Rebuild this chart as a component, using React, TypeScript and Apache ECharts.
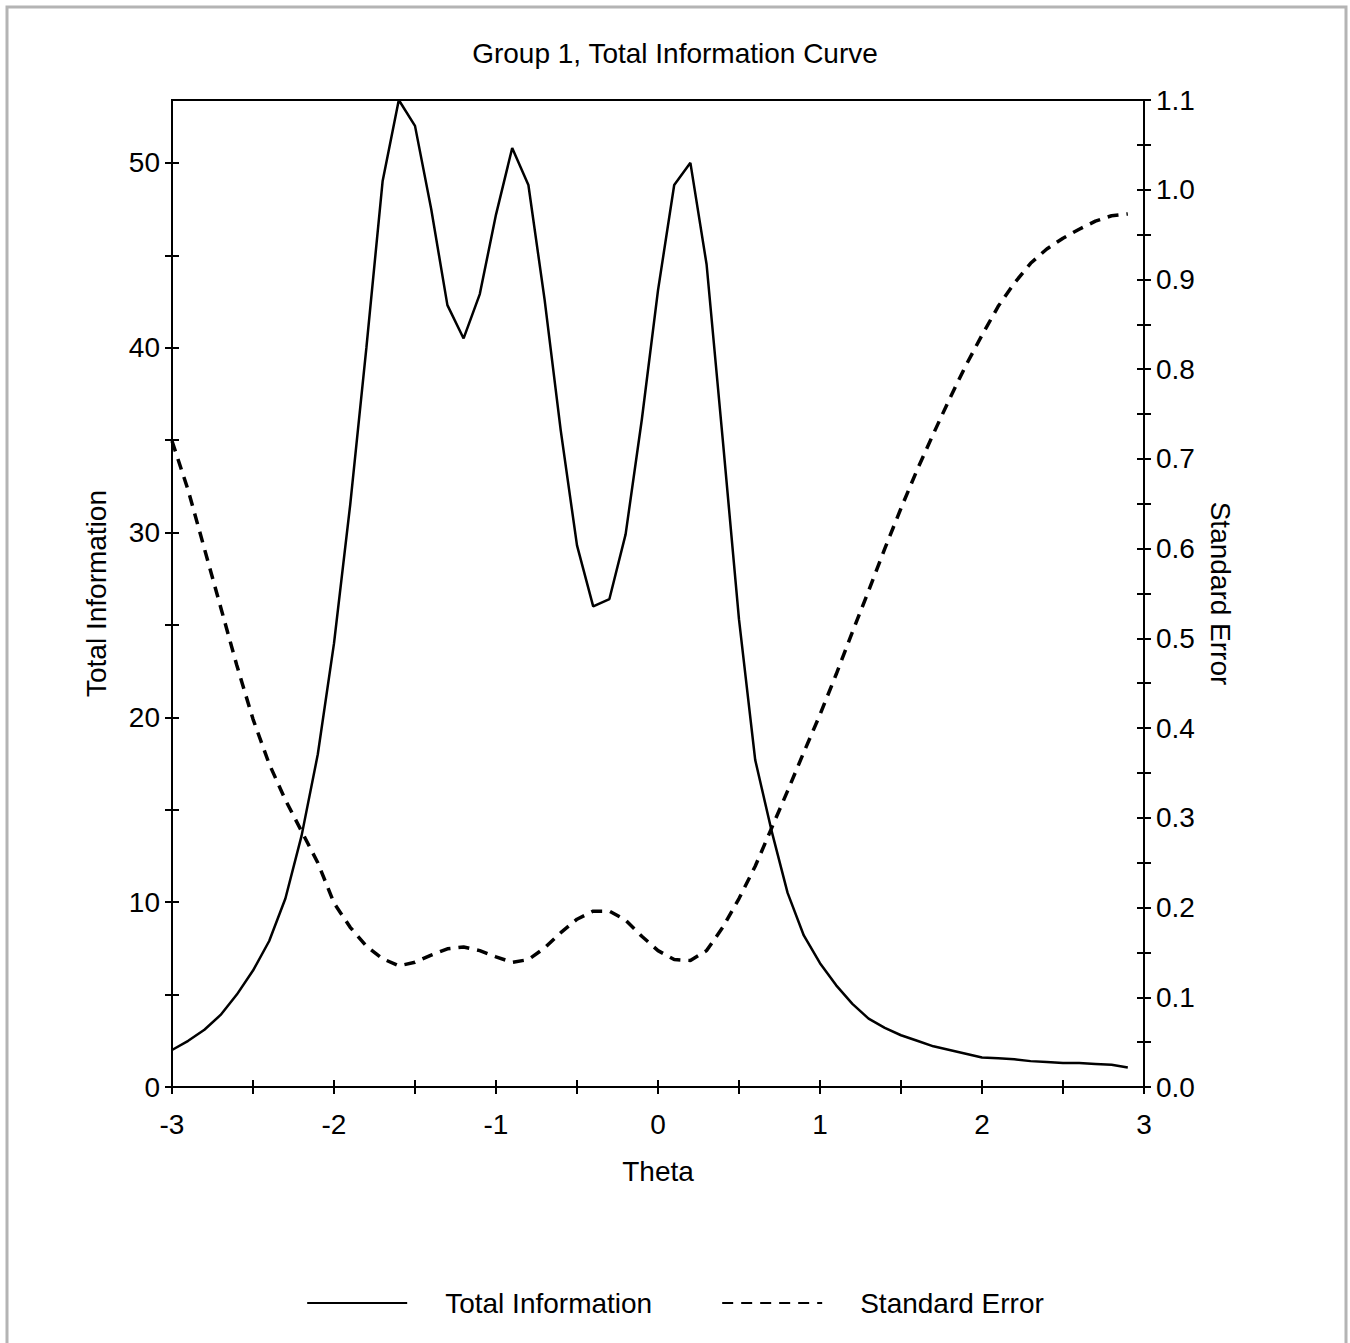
import React, { useEffect, useRef } from "react";
import * as echarts from "echarts";

const theta = [
  -3.0, -2.9, -2.8, -2.7, -2.6, -2.5, -2.4, -2.3, -2.2, -2.1,
  -2.0, -1.9, -1.8, -1.7, -1.6, -1.5, -1.4, -1.3, -1.2, -1.1,
  -1.0, -0.9, -0.8, -0.7, -0.6, -0.5, -0.4, -0.3, -0.2, -0.1,
  0.0, 0.1, 0.2, 0.3, 0.4, 0.5, 0.6, 0.7, 0.8, 0.9,
  1.0, 1.1, 1.2, 1.3, 1.4, 1.5, 1.6, 1.7, 1.8, 1.9,
  2.0, 2.1, 2.2, 2.3, 2.4, 2.5, 2.6, 2.7, 2.8, 2.9,
];

const totalInformation = [
  2.0, 2.5, 3.1, 3.9, 5.0, 6.3, 7.9, 10.2, 13.6, 18.0,
  24.0, 31.5, 40.0, 49.0, 53.4, 52.0, 47.5, 42.3, 40.5, 42.9,
  47.2, 50.8, 48.8, 42.6, 35.5, 29.3, 26.0, 26.4, 29.9, 36.1,
  43.1, 48.8, 50.0, 44.5, 35.0, 25.3, 17.7, 13.9, 10.5, 8.2,
  6.7, 5.5, 4.5, 3.7, 3.2, 2.8, 2.5, 2.2, 2.0, 1.8,
  1.6, 1.55, 1.5, 1.4, 1.35, 1.3, 1.3, 1.25, 1.2, 1.05,
];

const standardError = [
  0.72, 0.665, 0.6, 0.535, 0.47, 0.41, 0.36, 0.32, 0.285, 0.25,
  0.205, 0.178, 0.157, 0.143, 0.135, 0.139, 0.147, 0.154, 0.156, 0.152,
  0.145, 0.139, 0.142, 0.155, 0.172, 0.187, 0.196, 0.196, 0.186, 0.168,
  0.152, 0.142, 0.141, 0.152, 0.178, 0.21, 0.246, 0.288, 0.33, 0.373,
  0.415, 0.46, 0.507, 0.553, 0.6, 0.645, 0.688, 0.728, 0.767, 0.804,
  0.838, 0.87, 0.896, 0.918, 0.934, 0.946, 0.956, 0.965, 0.971, 0.973,
];

const xTicks = [-3, -2.5, -2, -1.5, -1, -0.5, 0, 0.5, 1, 1.5, 2, 2.5, 3];
const xLabels = [-3, -2, -1, 0, 1, 2, 3];
const leftTicks = [0, 5, 10, 15, 20, 25, 30, 35, 40, 45, 50];
const leftLabels = [0, 10, 20, 30, 40, 50];
const rightTicks = [
  0, 0.05, 0.1, 0.15, 0.2, 0.25, 0.3, 0.35, 0.4, 0.45, 0.5, 0.55,
  0.6, 0.65, 0.7, 0.75, 0.8, 0.85, 0.9, 0.95, 1.0, 1.05, 1.1,
];
const rightLabels = [0, 0.1, 0.2, 0.3, 0.4, 0.5, 0.6, 0.7, 0.8, 0.9, 1.0, 1.1];

const FONT = "'Liberation Sans', Arial, sans-serif";
const FS = 28;

export default function App() {
  const ref = useRef<HTMLDivElement>(null);

  useEffect(() => {
    if (!ref.current) return;
    const chart = echarts.init(ref.current, undefined, { renderer: "svg" });
    const tickStyle = { color: "#000", width: 2 };
    const labelStyle = { color: "#000", fontSize: FS, fontFamily: FONT };
    const hiddenAxisBase = {
      axisLine: { show: false, onZero: false },
      axisLabel: { show: false },
      splitLine: { show: false },
    };
    chart.setOption({
      animation: false,
      backgroundColor: "#fff",
      textStyle: { fontFamily: FONT },
      title: {
        text: "Group 1, Total Information Curve",
        left: "center",
        top: 34,
        textStyle: { color: "#000", fontSize: FS, fontWeight: "normal", fontFamily: FONT },
      },
      legend: {
        left: "center",
        top: 1284,
        itemWidth: 100,
        itemHeight: 14,
        itemGap: 69,
        itemStyle: { color: "transparent", borderColor: "transparent", borderWidth: 0, opacity: 0 },
        textStyle: { color: "#000", fontSize: FS, fontFamily: FONT, padding: [0, 0, 0, 33] },
        data: ["Total Information", "Standard Error"],
      },
      graphic: [
        {
          type: "rect",
          shape: { x: 7, y: 7, width: 1339, height: 1340 },
          style: { fill: "none", stroke: "#b4b4b4", lineWidth: 3 },
          silent: true,
        },
      ],
      grid: {
        left: 172,
        right: 206,
        top: 100,
        bottom: 256,
        show: true,
        borderColor: "#000",
        borderWidth: 2,
        backgroundColor: "transparent",
      },
      xAxis: [
        {
          type: "value",
          min: -3,
          max: 3,
          interval: 0.5,
          position: "bottom",
          name: "Theta",
          nameLocation: "middle",
          nameGap: 70,
          nameTextStyle: labelStyle,
          axisLine: { show: true, onZero: false, lineStyle: tickStyle },
          axisTick: { show: true, length: 7, lineStyle: tickStyle, customValues: xTicks },
          axisLabel: { ...labelStyle, margin: 23, customValues: xLabels, formatter: (v: number) => String(v) },
          splitLine: { show: false },
        },
        {
          type: "value",
          min: -3,
          max: 3,
          interval: 0.5,
          position: "bottom",
          ...hiddenAxisBase,
          axisTick: { show: true, inside: true, length: 7, lineStyle: tickStyle, customValues: xTicks },
        },
      ],
      yAxis: [
        {
          type: "value",
          min: 0,
          max: 53.4,
          interval: 5,
          position: "left",
          name: "Total Information",
          nameLocation: "middle",
          nameRotate: 90,
          nameGap: 62,
          nameTextStyle: labelStyle,
          axisLine: { show: true, onZero: false, lineStyle: tickStyle },
          axisTick: { show: true, length: 7, lineStyle: tickStyle, customValues: leftTicks },
          axisLabel: { ...labelStyle, margin: 12, customValues: leftLabels, formatter: (v: number) => String(v) },
          splitLine: { show: false },
        },
        {
          type: "value",
          min: 0,
          max: 1.1,
          interval: 0.05,
          position: "right",
          name: "Standard Error",
          nameLocation: "middle",
          nameRotate: -90,
          nameGap: 62,
          nameTextStyle: labelStyle,
          axisLine: { show: true, onZero: false, lineStyle: tickStyle },
          axisTick: { show: true, length: 7, lineStyle: tickStyle, customValues: rightTicks },
          axisLabel: { ...labelStyle, margin: 12, customValues: rightLabels, formatter: (v: number) => v.toFixed(1) },
          splitLine: { show: false },
        },
        {
          type: "value",
          min: 0,
          max: 53.4,
          interval: 5,
          position: "left",
          ...hiddenAxisBase,
          axisTick: { show: true, inside: true, length: 7, lineStyle: tickStyle, customValues: leftTicks },
        },
        {
          type: "value",
          min: 0,
          max: 1.1,
          interval: 0.05,
          position: "right",
          ...hiddenAxisBase,
          axisTick: { show: true, inside: true, length: 7, lineStyle: tickStyle, customValues: rightTicks },
        },
      ],
      series: [
        {
          name: "Total Information",
          type: "line",
          xAxisIndex: 0,
          yAxisIndex: 0,
          symbol: "none",
          lineStyle: { color: "#000", width: 2.5, type: "solid" },
          itemStyle: { color: "#000" },
          data: theta.map((t, i) => [t, totalInformation[i]]),
        },
        {
          name: "Standard Error",
          type: "line",
          xAxisIndex: 0,
          yAxisIndex: 1,
          symbol: "none",
          lineStyle: { color: "#000", width: 3.5, type: [11, 8] },
          itemStyle: { color: "#000" },
          data: theta.map((t, i) => [t, standardError[i]]),
        },
      ],
    });
    return () => chart.dispose();
  }, []);

  return (
    <div
      ref={ref}
      style={{ position: "absolute", left: 0, top: 0, width: 1350, height: 1343 }}
    />
  );
}
